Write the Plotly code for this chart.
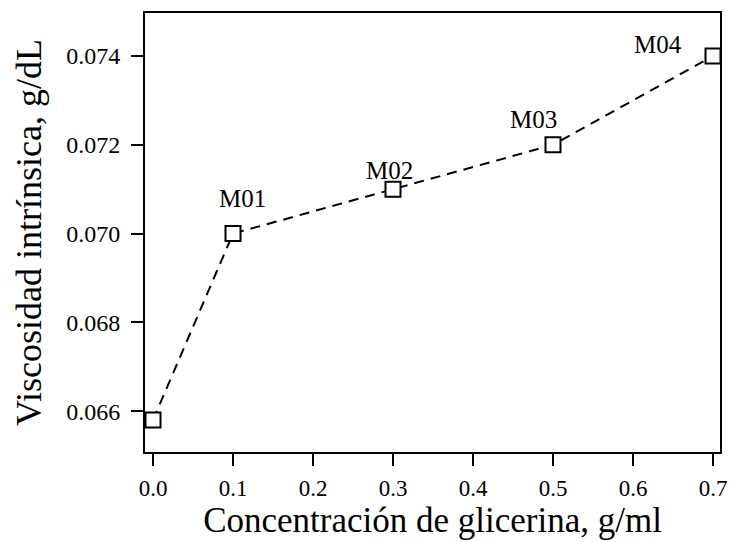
import plotly.graph_objects as go

conc = [0.0, 0.1, 0.3, 0.5, 0.7]
visc = [0.0658, 0.0700, 0.0710, 0.0720, 0.0740]
labels = ["", "M01", "M02", "M03", "M04"]
label_shift_x = [0, 9, -4, -20, -55]
label_shift_y = [0, 35, 19, 25, 12]

x_ticks = [0.0, 0.1, 0.2, 0.3, 0.4, 0.5, 0.6, 0.7]
y_ticks = [0.066, 0.068, 0.070, 0.072, 0.074]

FONT = "Liberation Serif"

fig = go.Figure()
fig.add_trace(go.Scatter(
    x=conc, y=visc, mode="lines+markers",
    line=dict(color="black", width=2, dash="10px,7px"),
    marker=dict(symbol="square", size=15, color="white",
                line=dict(color="black", width=2)),
    cliponaxis=False, showlegend=False,
))

for xv, yv, lab, dx, dy in zip(conc, visc, labels, label_shift_x, label_shift_y):
    if lab:
        fig.add_annotation(x=xv, y=yv, text=lab, showarrow=False,
                           xshift=dx, yshift=dy,
                           font=dict(family=FONT, size=25, color="black"))

fig.update_layout(
    width=731, height=542,
    margin=dict(l=145, r=11, t=13, b=90),
    plot_bgcolor="white", paper_bgcolor="white",
    font=dict(family=FONT, color="black"),
)
fig.update_xaxes(
    range=[-0.01, 0.70875], tickvals=x_ticks, tickformat=".1f",
    ticks="outside", ticklen=12, tickwidth=2, tickcolor="black",
    ticklabelstandoff=2, automargin=False,
    showline=True, linewidth=2, linecolor="black", mirror=True,
    showgrid=False, zeroline=False,
    tickfont=dict(family=FONT, size=23),
    title=dict(text="Concentración de glicerina, g/ml",
               font=dict(family=FONT, size=35), standoff=8),
)
fig.update_yaxes(
    range=[0.06508, 0.07497], tickvals=y_ticks, tickformat=".3f",
    ticks="outside", ticklen=12, tickwidth=2, tickcolor="black",
    ticklabelstandoff=6, automargin=False,
    showline=True, linewidth=2, linecolor="black", mirror=True,
    showgrid=False, zeroline=False,
    tickfont=dict(family=FONT, size=24),
    title=dict(text="Viscosidad intrínsica, g/dL",
               font=dict(family=FONT, size=36), standoff=14),
)

fig.write_html("out.html")
